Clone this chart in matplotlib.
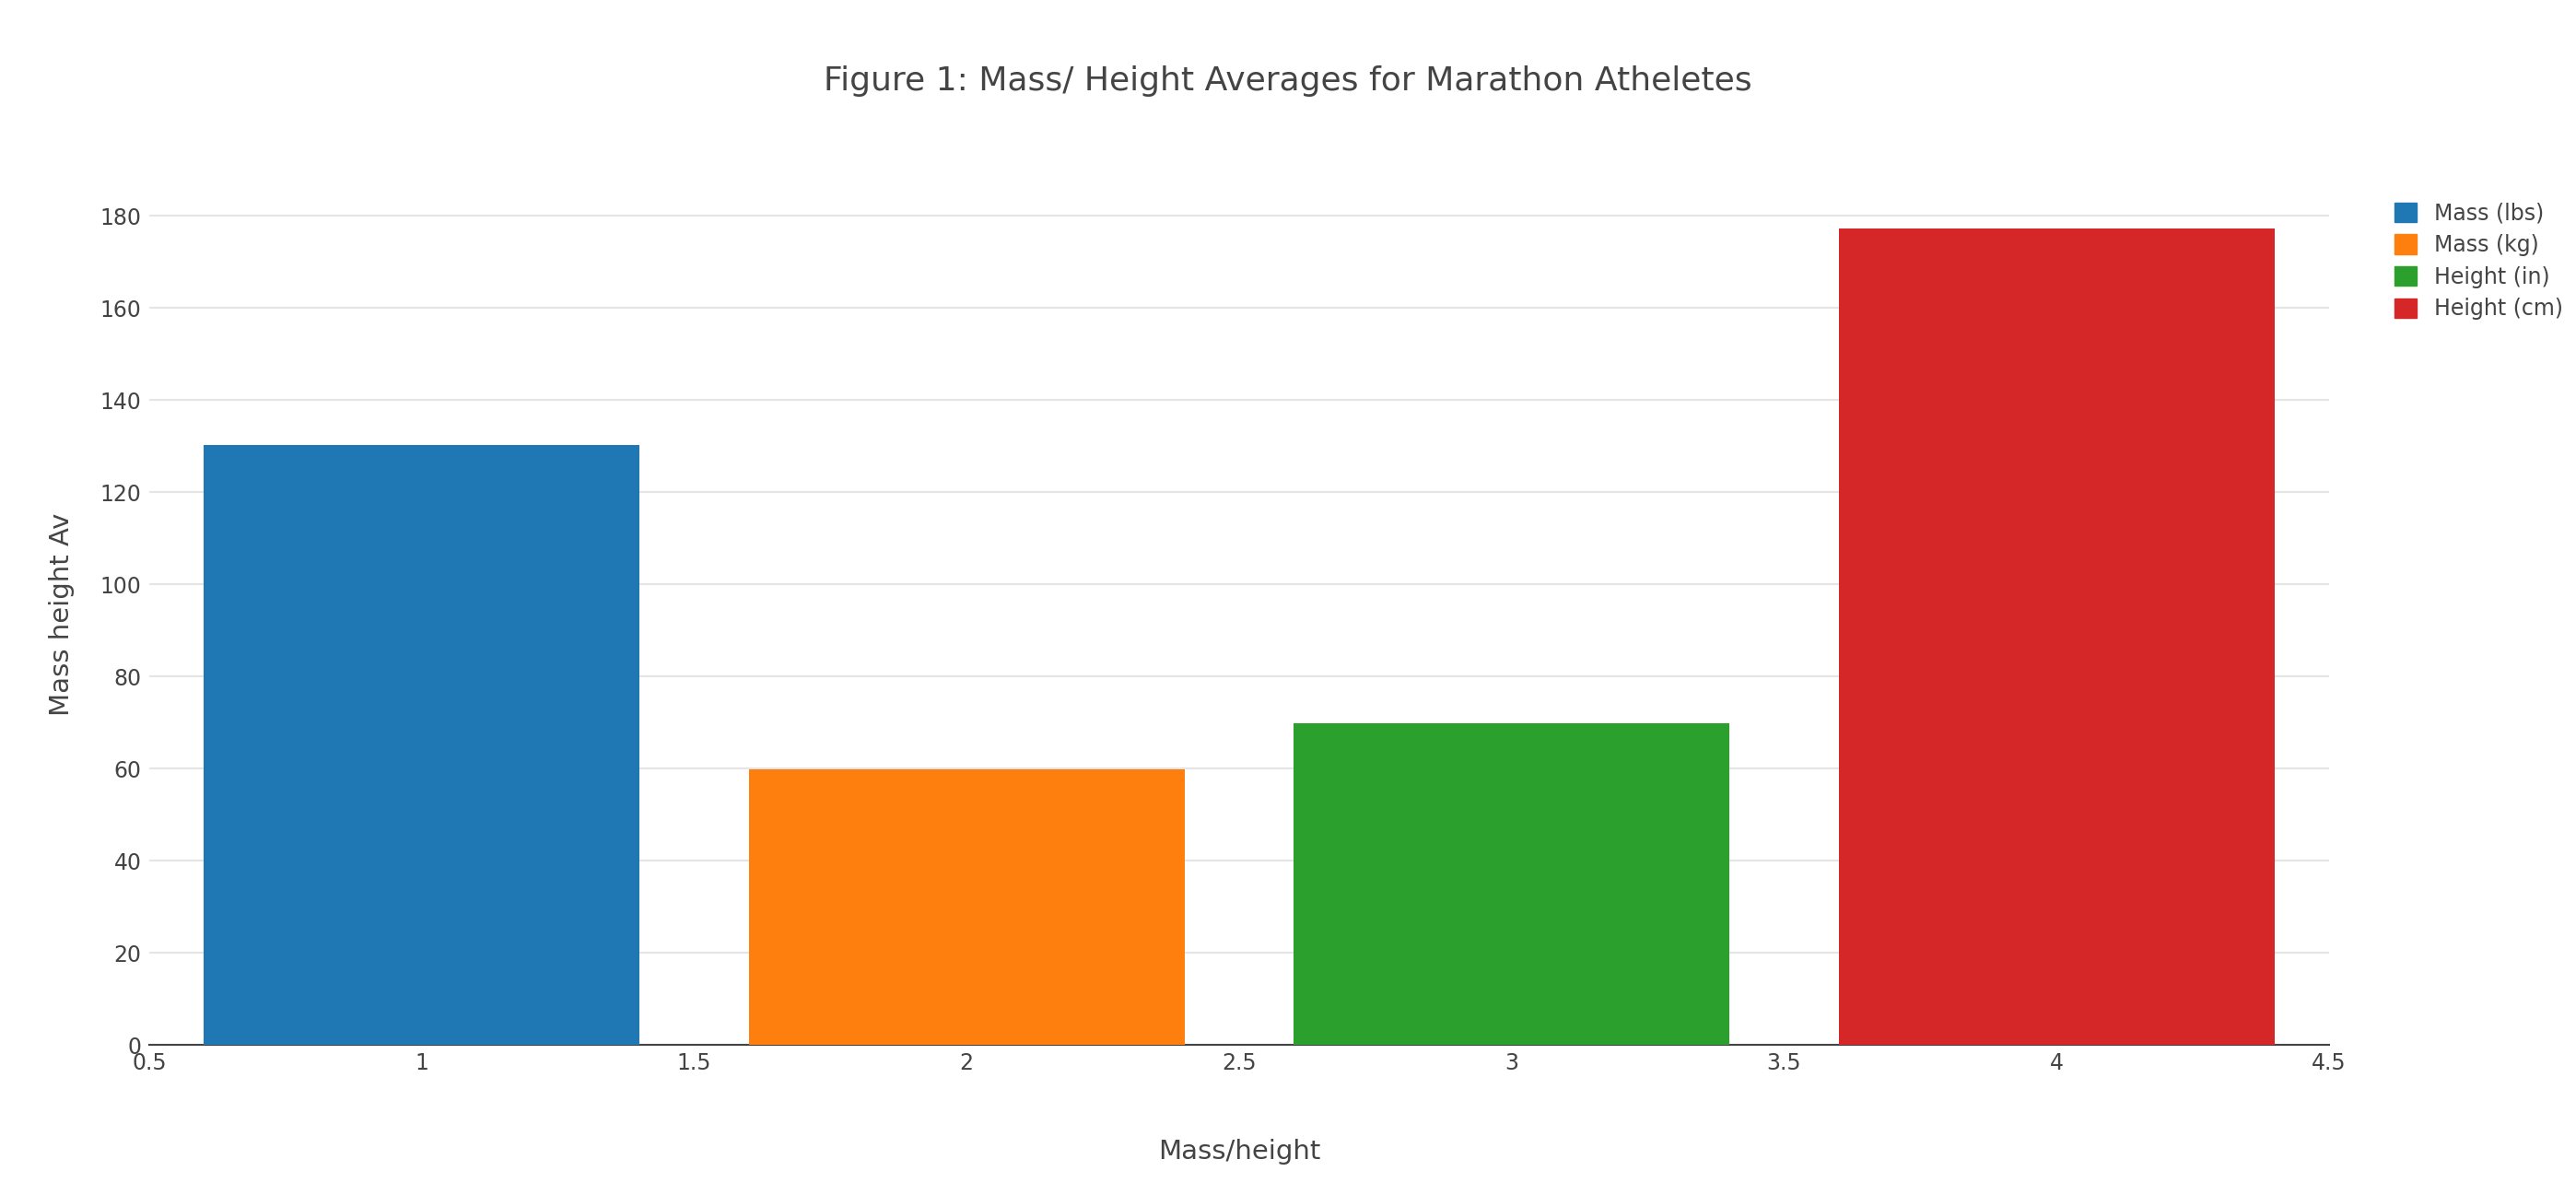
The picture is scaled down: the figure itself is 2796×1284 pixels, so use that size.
import matplotlib.pyplot as plt
from matplotlib.patches import Patch

x = [1, 2, 3, 4]
values = [130.2, 59.8, 69.8, 177.2]
labels = ['Mass (lbs)', 'Mass (kg)', 'Height (in)', 'Height (cm)']
colors = ['#1f77b4', '#ff7f0e', '#2ca02c', '#d62728']

W, H = 2796, 1284
fig = plt.figure(figsize=(W / 100, H / 100), dpi=100)
ax = fig.add_axes([162 / W, 1 - 1134 / H, (2528 - 162) / W, (1134 - 200) / H])

ax.bar(x, values, width=0.8, color=colors, zorder=3)
ax.set_xlim(0.5, 4.5)
ax.set_ylim(0, 180 * 934 / 900)
ax.set_yticks(range(0, 181, 20))
ax.set_xticks([0.5, 1, 1.5, 2, 2.5, 3, 3.5, 4, 4.5])
ax.set_xticklabels(['0.5', '1', '1.5', '2', '2.5', '3', '3.5', '4', '4.5'])
ax.grid(axis='y', color='#e5e5e5', linewidth=1.5, zorder=0)
for s in ['top', 'right', 'left']:
    ax.spines[s].set_visible(False)
ax.spines['bottom'].set_color('#444444')
ax.spines['bottom'].set_linewidth(1.5)
ax.tick_params(axis='both', length=0, labelsize=17, colors='#444444', pad=6)
ax.set_xlabel('Mass/height', fontsize=21, color='#444444', labelpad=50)
ax.set_ylabel('Mass height Av', fontsize=21, color='#444444', labelpad=20)

fig.text(0.5, 1 - 88 / H, 'Figure 1: Mass/ Height Averages for Marathon Atheletes',
         ha='center', va='center', fontsize=26, color='#444444')

handles = [Patch(color=c, label=l) for c, l in zip(colors, labels)]
fig.legend(handles=handles, loc='upper left', bbox_to_anchor=(2590 / W, 1 - 210 / H),
           frameon=False, fontsize=17, labelcolor='#444444', handlelength=1.0,
           handleheight=1.0, labelspacing=0.45, borderaxespad=0)

fig.savefig('out.png', dpi=100)
